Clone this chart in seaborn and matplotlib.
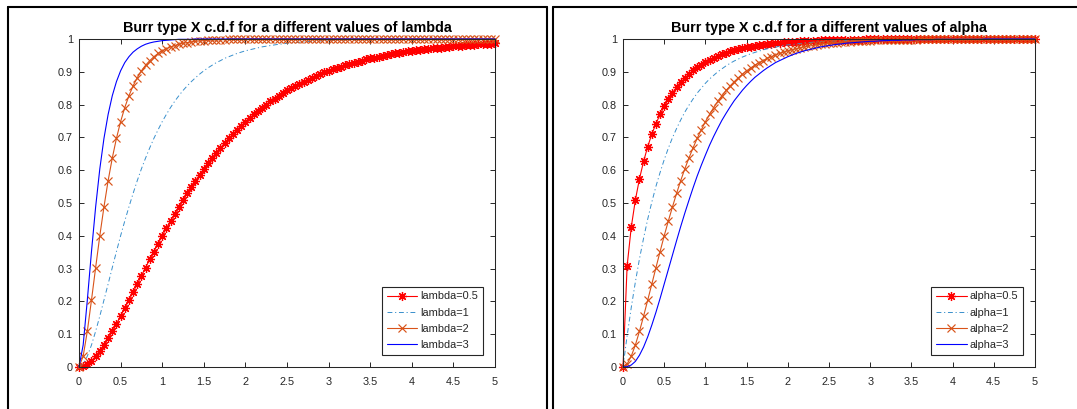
import numpy as np
import matplotlib
matplotlib.use("Agg")
import matplotlib.pyplot as plt
from matplotlib.lines import Line2D
import seaborn as sns

# ---------------- data ----------------
x_vals = np.linspace(0, 5, 101)  # sample positions 0:0.05:5

lambda_labels = ["lambda=0.5", "lambda=1", "lambda=2", "lambda=3"]
alpha_labels = ["alpha=0.5", "alpha=1", "alpha=2", "alpha=3"]

lam_05 = [0, 0.002, 0.009, 0.019, 0.033, 0.049, 0.067, 0.087, 0.109, 0.131,
          0.155, 0.179, 0.204, 0.228, 0.253, 0.278, 0.303, 0.328, 0.352, 0.376,
          0.400, 0.423, 0.445, 0.467, 0.488, 0.509, 0.529, 0.549, 0.568, 0.586,
          0.604, 0.621, 0.637, 0.653, 0.668, 0.683, 0.697, 0.710, 0.723, 0.736,
          0.748, 0.759, 0.770, 0.781, 0.791, 0.800, 0.810, 0.818, 0.827, 0.835,
          0.843, 0.850, 0.857, 0.864, 0.870, 0.876, 0.882, 0.888, 0.893, 0.898,
          0.903, 0.908, 0.912, 0.916, 0.920, 0.924, 0.928, 0.931, 0.934, 0.938,
          0.941, 0.943, 0.946, 0.949, 0.951, 0.954, 0.956, 0.958, 0.960, 0.962,
          0.964, 0.965, 0.967, 0.969, 0.970, 0.972, 0.973, 0.974, 0.976, 0.977,
          0.978, 0.979, 0.980, 0.981, 0.982, 0.983, 0.984, 0.984, 0.985, 0.986,
          0.987]

lam_1 = [0, 0.009, 0.033, 0.067, 0.109, 0.155, 0.204, 0.253, 0.303, 0.352,
         0.400, 0.445, 0.488, 0.529, 0.568, 0.604, 0.637, 0.668, 0.697, 0.723,
         0.748, 0.770, 0.791, 0.810, 0.827, 0.843, 0.857, 0.870, 0.882, 0.893,
         0.903, 0.912, 0.920, 0.928, 0.934, 0.941, 0.946, 0.951, 0.956, 0.960,
         0.964, 0.967, 0.970, 0.973, 0.976, 0.978, 0.980, 0.982, 0.984, 0.985,
         0.987, 0.988, 0.989, 0.990, 0.991, 0.992, 0.993, 0.993, 0.994, 0.995,
         0.995, 0.996, 0.996, 0.996, 0.997, 0.997, 0.997, 0.998, 0.998, 0.998,
         0.998, 0.998, 0.999, 0.999, 0.999, 0.999, 0.999, 0.999, 0.999, 0.999,
         0.999, 0.999, 0.999, 1.000, 1.000, 1.000, 1.000, 1.000, 1.000, 1.000,
         1.000, 1.000, 1.000, 1.000, 1.000, 1.000, 1.000, 1.000, 1.000, 1.000,
         1.000]

lam_2 = [0, 0.033, 0.109, 0.204, 0.303, 0.400, 0.488, 0.568, 0.637, 0.697,
         0.748, 0.791, 0.827, 0.857, 0.882, 0.903, 0.920, 0.934, 0.946, 0.956,
         0.964, 0.970, 0.976, 0.980, 0.984, 0.987, 0.989, 0.991, 0.993, 0.994,
         0.995, 0.996, 0.997, 0.997, 0.998, 0.998, 0.999, 0.999, 0.999, 0.999,
         0.999, 0.999, 1.000, 1.000, 1.000, 1.000, 1.000, 1.000, 1.000, 1.000,
         1.000, 1.000, 1.000, 1.000, 1.000, 1.000, 1.000, 1.000, 1.000, 1.000,
         1.000, 1.000, 1.000, 1.000, 1.000, 1.000, 1.000, 1.000, 1.000, 1.000,
         1.000, 1.000, 1.000, 1.000, 1.000, 1.000, 1.000, 1.000, 1.000, 1.000,
         1.000, 1.000, 1.000, 1.000, 1.000, 1.000, 1.000, 1.000, 1.000, 1.000,
         1.000, 1.000, 1.000, 1.000, 1.000, 1.000, 1.000, 1.000, 1.000, 1.000,
         1.000]

lam_3 = [0, 0.067, 0.204, 0.352, 0.488, 0.604, 0.697, 0.770, 0.827, 0.870,
         0.903, 0.928, 0.946, 0.960, 0.970, 0.978, 0.984, 0.988, 0.991, 0.993,
         0.995, 0.996, 0.997, 0.998, 0.999, 0.999, 0.999, 0.999, 1.000, 1.000,
         1.000, 1.000, 1.000, 1.000, 1.000, 1.000, 1.000, 1.000, 1.000, 1.000,
         1.000, 1.000, 1.000, 1.000, 1.000, 1.000, 1.000, 1.000, 1.000, 1.000,
         1.000, 1.000, 1.000, 1.000, 1.000, 1.000, 1.000, 1.000, 1.000, 1.000,
         1.000, 1.000, 1.000, 1.000, 1.000, 1.000, 1.000, 1.000, 1.000, 1.000,
         1.000, 1.000, 1.000, 1.000, 1.000, 1.000, 1.000, 1.000, 1.000, 1.000,
         1.000, 1.000, 1.000, 1.000, 1.000, 1.000, 1.000, 1.000, 1.000, 1.000,
         1.000, 1.000, 1.000, 1.000, 1.000, 1.000, 1.000, 1.000, 1.000, 1.000,
         1.000]

alp_05 = [0, 0.308, 0.426, 0.509, 0.574, 0.627, 0.672, 0.710, 0.742, 0.770,
          0.795, 0.817, 0.836, 0.853, 0.868, 0.881, 0.893, 0.904, 0.914, 0.922,
          0.930, 0.937, 0.943, 0.949, 0.954, 0.958, 0.962, 0.966, 0.969, 0.972,
          0.975, 0.977, 0.979, 0.981, 0.983, 0.985, 0.986, 0.988, 0.989, 0.990,
          0.991, 0.992, 0.992, 0.993, 0.994, 0.994, 0.995, 0.995, 0.996, 0.996,
          0.997, 0.997, 0.997, 0.998, 0.998, 0.998, 0.998, 0.998, 0.998, 0.999,
          0.999, 0.999, 0.999, 0.999, 0.999, 0.999, 0.999, 0.999, 0.999, 0.999,
          1.000, 1.000, 1.000, 1.000, 1.000, 1.000, 1.000, 1.000, 1.000, 1.000,
          1.000, 1.000, 1.000, 1.000, 1.000, 1.000, 1.000, 1.000, 1.000, 1.000,
          1.000, 1.000, 1.000, 1.000, 1.000, 1.000, 1.000, 1.000, 1.000, 1.000,
          1.000]

alp_1 = [0, 0.095, 0.181, 0.259, 0.330, 0.393, 0.451, 0.503, 0.551, 0.593,
         0.632, 0.667, 0.699, 0.727, 0.753, 0.777, 0.798, 0.817, 0.835, 0.850,
         0.865, 0.878, 0.889, 0.900, 0.909, 0.918, 0.926, 0.933, 0.939, 0.945,
         0.950, 0.955, 0.959, 0.963, 0.967, 0.970, 0.973, 0.975, 0.978, 0.980,
         0.982, 0.983, 0.985, 0.986, 0.988, 0.989, 0.990, 0.991, 0.992, 0.993,
         0.993, 0.994, 0.994, 0.995, 0.995, 0.996, 0.996, 0.997, 0.997, 0.997,
         0.998, 0.998, 0.998, 0.998, 0.998, 0.998, 0.999, 0.999, 0.999, 0.999,
         0.999, 0.999, 0.999, 0.999, 0.999, 0.999, 1.000, 1.000, 1.000, 1.000,
         1.000, 1.000, 1.000, 1.000, 1.000, 1.000, 1.000, 1.000, 1.000, 1.000,
         1.000, 1.000, 1.000, 1.000, 1.000, 1.000, 1.000, 1.000, 1.000, 1.000,
         1.000]

alp_2 = [0, 0.009, 0.033, 0.067, 0.109, 0.155, 0.204, 0.253, 0.303, 0.352,
         0.400, 0.445, 0.488, 0.529, 0.568, 0.604, 0.637, 0.668, 0.697, 0.723,
         0.748, 0.770, 0.791, 0.810, 0.827, 0.843, 0.857, 0.870, 0.882, 0.893,
         0.903, 0.912, 0.920, 0.928, 0.934, 0.941, 0.946, 0.951, 0.956, 0.960,
         0.964, 0.967, 0.970, 0.973, 0.976, 0.978, 0.980, 0.982, 0.984, 0.985,
         0.987, 0.988, 0.989, 0.990, 0.991, 0.992, 0.993, 0.993, 0.994, 0.995,
         0.995, 0.996, 0.996, 0.996, 0.997, 0.997, 0.997, 0.998, 0.998, 0.998,
         0.998, 0.998, 0.999, 0.999, 0.999, 0.999, 0.999, 0.999, 0.999, 0.999,
         0.999, 0.999, 0.999, 1.000, 1.000, 1.000, 1.000, 1.000, 1.000, 1.000,
         1.000, 1.000, 1.000, 1.000, 1.000, 1.000, 1.000, 1.000, 1.000, 1.000,
         1.000]

alp_3 = [0, 0.001, 0.006, 0.017, 0.036, 0.061, 0.092, 0.128, 0.167, 0.209,
         0.253, 0.297, 0.341, 0.385, 0.428, 0.469, 0.508, 0.546, 0.582, 0.615,
         0.646, 0.676, 0.703, 0.728, 0.752, 0.773, 0.793, 0.812, 0.828, 0.844,
         0.858, 0.871, 0.883, 0.893, 0.903, 0.912, 0.920, 0.928, 0.934, 0.940,
         0.946, 0.951, 0.956, 0.960, 0.964, 0.967, 0.970, 0.973, 0.976, 0.978,
         0.980, 0.982, 0.984, 0.985, 0.987, 0.988, 0.989, 0.990, 0.991, 0.992,
         0.993, 0.993, 0.994, 0.995, 0.995, 0.996, 0.996, 0.996, 0.997, 0.997,
         0.997, 0.998, 0.998, 0.998, 0.998, 0.998, 0.999, 0.999, 0.999, 0.999,
         0.999, 0.999, 0.999, 0.999, 0.999, 0.999, 0.999, 0.999, 1.000, 1.000,
         1.000, 1.000, 1.000, 1.000, 1.000, 1.000, 1.000, 1.000, 1.000, 1.000,
         1.000]

x_ticks = [0, 0.5, 1, 1.5, 2, 2.5, 3, 3.5, 4, 4.5, 5]
x_tick_labels = ["0", "0.5", "1", "1.5", "2", "2.5", "3", "3.5", "4", "4.5", "5"]
y_ticks = [0, 0.1, 0.2, 0.3, 0.4, 0.5, 0.6, 0.7, 0.8, 0.9, 1]
y_tick_labels = ["0", "0.1", "0.2", "0.3", "0.4", "0.5", "0.6", "0.7", "0.8", "0.9", "1"]

titles = ["Burr type X c.d.f for a different values of lambda",
          "Burr type X c.d.f for a different values of alpha"]

# ---------------- style ----------------
sns.set_style("white")
plt.rcParams["font.family"] = ["Liberation Sans", "DejaVu Sans"]

AX_COL = (0.15, 0.15, 0.15)
RED = (1.0, 0.0, 0.0)
LBLUE = (0.22, 0.56, 0.80)
ORANGE = (0.85, 0.325, 0.098)
BLUE = (0.0, 0.0, 1.0)

W, H = 1077, 409
fig = plt.figure(figsize=(W / 100, H / 100), dpi=100)

def fx(px):
    return px / W

def fy(py):
    return 1 - py / H

ax_specs = [
    (79, 495, 39, 367),
    (623, 1035, 39, 367),
]
axes = []
for (l, r, t, b) in ax_specs:
    axes.append(fig.add_axes([fx(l), fy(b), (r - l) / W, (b - t) / H]))

star = (8, 2, 0)
series_sets = [
    (lam_05, lam_1, lam_2, lam_3, lambda_labels),
    (alp_05, alp_1, alp_2, alp_3, alpha_labels),
]

for ax, (s05, s1, s2, s3, labels), title in zip(axes, series_sets, titles):
    sns.lineplot(x=x_vals, y=s05, ax=ax, color=RED, lw=0.8, marker=star,
                 markersize=6.5, markeredgewidth=0.9, markeredgecolor=RED,
                 label=labels[0], errorbar=None, clip_on=False)
    sns.lineplot(x=x_vals, y=s1, ax=ax, color=LBLUE, lw=0.7,
                 linestyle=(0, (5, 2.8, 1.2, 2.8)),
                 label=labels[1], errorbar=None, clip_on=False)
    sns.lineplot(x=x_vals, y=s2, ax=ax, color=ORANGE, lw=0.8, marker="x",
                 markersize=5.8, markeredgewidth=0.85, markeredgecolor=ORANGE,
                 label=labels[2], errorbar=None, clip_on=False)
    sns.lineplot(x=x_vals, y=s3, ax=ax, color=BLUE, lw=0.8,
                 label=labels[3], errorbar=None, clip_on=False)

    ax.set_xlim(0, 5)
    ax.set_ylim(0, 1)
    ax.set_xticks(x_ticks)
    ax.set_xticklabels(x_tick_labels)
    ax.set_yticks(y_ticks)
    ax.set_yticklabels(y_tick_labels)
    ax.set_xlabel("")
    ax.set_ylabel("")
    for sp in ax.spines.values():
        sp.set_visible(True)
        sp.set_color(AX_COL)
        sp.set_linewidth(0.75)
    ax.tick_params(axis="both", which="both", direction="in", length=3.6,
                   width=0.7, color=AX_COL, labelcolor=AX_COL, labelsize=7.8,
                   top=True, right=True, bottom=True, left=True)
    ax.tick_params(axis="x", pad=7)
    ax.tick_params(axis="y", pad=4.3)
    ax.set_title(title, fontsize=10.4, fontweight="bold", color="black", pad=4.8)

    leg = ax.legend(loc="lower right", bbox_to_anchor=(0.972, 0.038),
                    borderaxespad=0, fontsize=7.9, frameon=True, fancybox=False,
                    framealpha=1, edgecolor=AX_COL, handlelength=2.8,
                    handletextpad=0.3, labelspacing=0.55, borderpad=0.45)
    leg.get_frame().set_linewidth(0.8)

# ---------------- window borders of the screenshot ----------------
border_kw = dict(color="black", lw=1.5, transform=fig.transFigure)
fig.add_artist(Line2D([fx(8.3), fx(8.3)], [fy(6.7), fy(409)], **border_kw))
fig.add_artist(Line2D([fx(8.3), fx(546.7)], [fy(6.7), fy(6.7)], **border_kw))
fig.add_artist(Line2D([fx(546.7), fx(546.7)], [fy(6.7), fy(409)], **border_kw))
fig.add_artist(Line2D([fx(552.7), fx(552.7)], [fy(6.7), fy(409)], **border_kw))
fig.add_artist(Line2D([fx(552.7), fx(1077)], [fy(6.7), fy(6.7)], **border_kw))

fig.savefig("out.png", dpi=100)
